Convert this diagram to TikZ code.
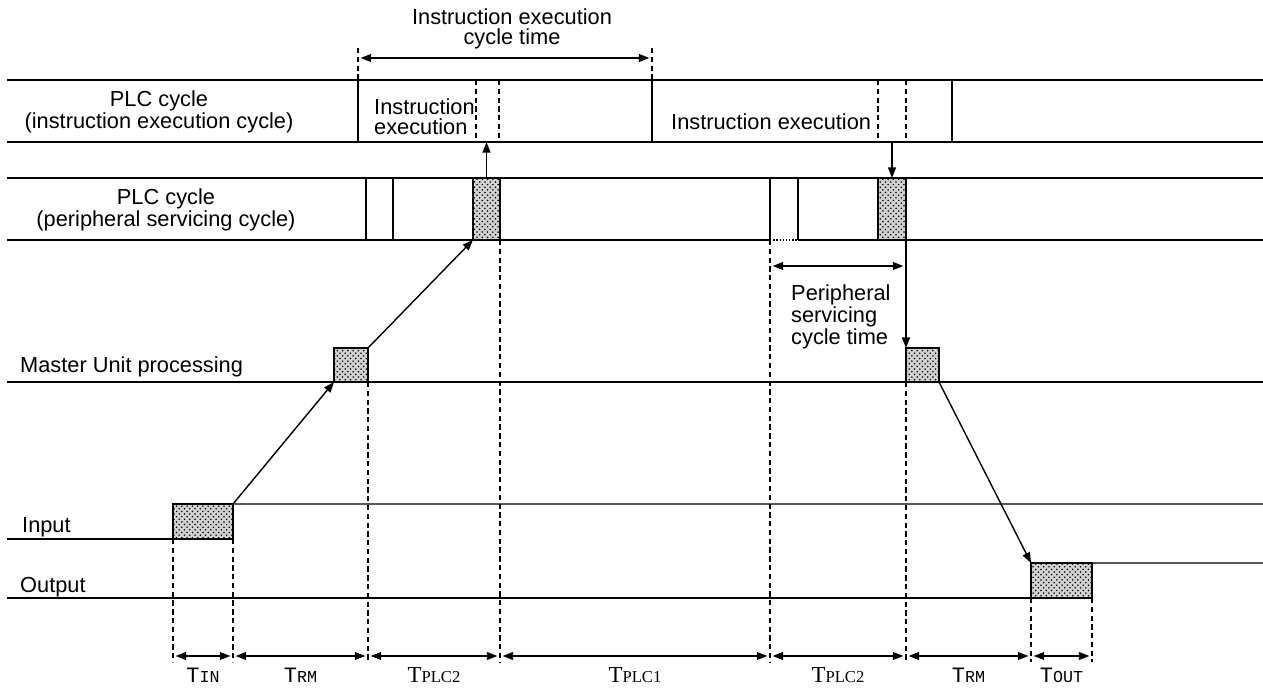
\documentclass[tikz,border=0pt]{standalone}
\usepackage{fontspec}
\setmainfont{Liberation Sans}
\newfontfamily\courfont{Liberation Mono}
\newfontfamily\romfont{Liberation Serif}
\usetikzlibrary{arrows.meta,patterns,fit}
\newcommand{\tcour}[1]{{\courfont\fontsize{12.5}{12}\selectfont T\fontsize{9.5}{9}\selectfont #1}}
\newcommand{\trom}[1]{{\romfont\fontsize{13}{12}\selectfont T\fontsize{9.5}{9}\selectfont #1}}
\begin{document}
\begin{tikzpicture}[x=0.02cm,y=-0.02cm,
	every node/.style={font=\fontsize{12.4}{11.2}\selectfont},
	line/.style={line width=0.8pt},
	guide/.style={line width=0.7pt, dash pattern=on 3pt off 2pt},
	shaded/.style={draw, line width=0.8pt, inner sep=0pt, outer sep=0pt,
		preaction={fill=gray!35}, preaction={pattern=crosshatch dots, pattern color=black}},
	dim/.style={{Triangle[length=6pt,width=4.5pt]}-{Triangle[length=6pt,width=4.5pt]}, line width=0.8pt, shorten <=1.5pt, shorten >=1.5pt},
	sig/.style={-{Triangle[length=6pt,width=4.5pt]}, line width=0.8pt}]
	\useasboundingbox (0,0) rectangle (1263,688);
	\coordinate (r1b) at (0,142);
	\coordinate (r2b) at (0,240);
	\coordinate (bot) at (0,662);
	\coordinate (dimy) at (0,656);
	% rows of the PLC cycles
	\draw[line] (7,80) -- (1263,80);
	\draw[line] (7,142) -- (1263,142);
	\draw[line] (7,178) -- (1263,178);
	\draw[line] (7,240) -- (770,240);
	\draw[line, densely dotted] (770,240) -- (798,240);
	\draw[line] (798,240) -- (1263,240);
	\draw[line] (358,80) -- (358,142);
	\draw[line] (652,80) -- (652,142);
	\draw[line] (952,80) -- (952,142);
	\draw[guide] (476,80) -- (476,142);
	\draw[guide] (499,80) -- (499,142);
	\draw[guide] (878,80) -- (878,142);
	\draw[guide] (906,80) -- (906,142);
	\draw[line] (366,178) -- (366,240);
	\draw[line] (393,178) -- (393,240);
	\draw[line] (770,178) -- (770,240);
	\draw[line] (798,178) -- (798,240);
	\node (plc1) at (159,112) [align=center] {PLC cycle\\(instruction execution cycle)};
	\node (plc2) at (166,210) [align=center] {PLC cycle\\(peripheral servicing cycle)};
	\node (ie1) at (368,117) [anchor=west, align=left] {Instruction\\execution};
	\node (ie2) at (665,122) [anchor=west] {Instruction execution};
	% processing boxes
	\node[shaded, fit={(473,178) (500,240)}] (ps1) {};
	\node[shaded, fit={(878,178) (906,240)}] (ps2) {};
	\node[shaded, fit={(334,348) (368,382)}] (mu1) {};
	\node[shaded, fit={(906,348) (939,382)}] (mu2) {};
	\node[shaded, fit={(173,504) (233,539)}] (inp) {};
	\node[shaded, fit={(1031,563) (1092,598)}] (outp) {};
	\draw[line] (7,382) -- (mu1.south west);
	\draw[line] (mu1.south east) -- (mu2.south west);
	\draw[line] (mu2.south east) -- (1263,382);
	\draw[line] (7,539) -- (inp.south west);
	\draw[line] (inp.north east) -- (1263,504);
	\draw[line] (7,598) -- (outp.south west);
	\draw[line] (outp.north east) -- (1263,563);
	\node (mup) at (14,367) [anchor=west] {Master Unit processing};
	\node (inl) at (16,527) [anchor=west] {Input};
	\node (outl) at (14,587) [anchor=west] {Output};
	% signal flow
	\draw[sig] (inp.north east) -- (mu1.south west);
	\draw[sig] (mu1.north east) -- (ps1.south west);
	\draw[sig] (ps1.north) -- (ps1.north |- r1b);
	\draw[sig] (ps2.north |- r1b) -- (ps2.north);
	\draw[sig] (mu2.north west |- r2b) -- (mu2.north west);
	\draw[sig] (mu2.south east) -- (outp.north west);
	% cycle times
	\draw[guide] (358,48) -- (358,80);
	\draw[guide] (652,48) -- (652,80);
	\draw[dim] (358,58) -- (652,58);
	\node (iect) at (512,29) [align=center] {Instruction execution\\cycle time};
	\draw[dim] (770,266) -- (906,266);
	\node (psct) at (785,317) [anchor=west, align=left] {Peripheral\\servicing\\cycle time};
	% time marks
	\coordinate (t1) at (inp.south west |- dimy);
	\coordinate (t2) at (inp.south east |- dimy);
	\coordinate (t3) at (mu1.south east |- dimy);
	\coordinate (t4) at (ps1.south east |- dimy);
	\coordinate (t5) at (770,656);
	\coordinate (t6) at (mu2.south west |- dimy);
	\coordinate (t7) at (outp.south west |- dimy);
	\coordinate (t8) at (outp.south east |- dimy);
	\draw[guide] (inp.south west) -- (inp.south west |- bot);
	\draw[guide] (inp.south east) -- (inp.south east |- bot);
	\draw[guide] (mu1.south east) -- (mu1.south east |- bot);
	\draw[guide] (ps1.south east) -- (ps1.south east |- bot);
	\draw[guide] (770,240) -- (770,662);
	\draw[guide] (mu2.south west) -- (mu2.south west |- bot);
	\draw[guide] (outp.south west) -- (outp.south west |- bot);
	\draw[guide] (outp.south east) -- (outp.south east |- bot);
	\draw[dim] (t1) -- (t2) node[midway, yshift=-11pt] (tin) {\tcour{IN}};
	\draw[dim] (t2) -- (t3) node[midway, yshift=-11pt] (trm1) {\tcour{RM}};
	\draw[dim] (t3) -- (t4) node[midway, yshift=-11pt] (tplc2a) {\trom{PLC2}};
	\draw[dim] (t4) -- (t5) node[midway, yshift=-11pt] (tplc1) {\trom{PLC1}};
	\draw[dim] (t5) -- (t6) node[midway, yshift=-11pt] (tplc2b) {\trom{PLC2}};
	\draw[dim] (t6) -- (t7) node[midway, yshift=-11pt] (trm2) {\tcour{RM}};
	\draw[dim] (t7) -- (t8) node[midway, yshift=-11pt] (tout) {\tcour{OUT}};
\end{tikzpicture}
\end{document}
